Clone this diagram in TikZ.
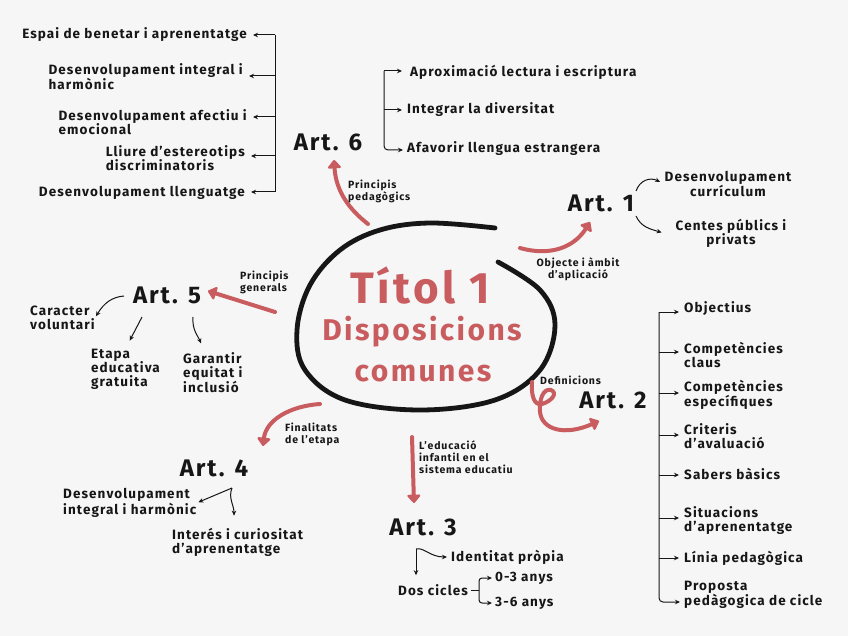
\documentclass[tikz,border=0pt]{standalone}
\usepackage{fontspec}
\setmainfont{Fira Sans}[LetterSpace=8]
\usetikzlibrary{arrows.meta}
\definecolor{titolred}{RGB}{200,92,95}
\definecolor{ink}{RGB}{22,22,22}
\definecolor{paper}{RGB}{246,246,246}

\begin{document}
\begin{tikzpicture}[x=1pt,y=-1pt,>={Stealth[length=5pt,width=4.5pt]},
  item/.style={font=\fontsize{13.5}{14}\selectfont\bfseries,text=ink,align=left,inner sep=0pt},
  artnode/.style={font=\fontsize{24}{26}\selectfont\bfseries,text=ink,inner sep=1pt},
  tag/.style={font=\fontsize{10.5}{12}\selectfont\bfseries,text=ink,align=left,inner sep=0pt},
  titletext/.style={text=titolred,inner sep=0pt,font=\bfseries},
  link/.style={ink,line width=1pt,->,shorten >=2pt},
  spine/.style={ink,line width=1pt},
  redarrow/.style={titolred,line width=4pt,line cap=round,-{Triangle[round,length=9pt,width=15pt]}}]
  \fill[paper] (0,0) rectangle (848,636);

  % centre: title inside an open hand drawn ring
  \draw[ink,line width=4.8pt,line cap=round] plot[smooth,tension=0.6] coordinates {(498,262) (540,290) (555,325) (540,370) (495,400) (420,410) (345,400) (305,370) (297,330) (310,285) (340,250) (380,230) (430,223) (495,228)};
  \node[titletext,font=\fontsize{44}{44}\selectfont\bfseries] (titol) at (420,286) {Títol 1};
  \node[titletext,font=\fontsize{30}{30}\selectfont\bfseries] (disp) at (422,332) {Disposicions};
  \node[titletext,font=\fontsize{30}{30}\selectfont\bfseries] (comu) at (423,374) {comunes};

  % the six articles
  \node[artnode] (art6) at (328,142) {Art. 6};
  \node[artnode] (art1) at (601,203) {Art. 1};
  \node[artnode] (art5) at (167,295) {Art. 5};
  \node[artnode] (art2) at (613,400) {Art. 2};
  \node[artnode] (art4) at (214,468) {Art. 4};
  \node[artnode] (art3) at (423,527) {Art. 3};

  % red arrows out of the ring, with their labels
  \coordinate (r6s) at (368,224); \coordinate (r6e) at (334,160);
  \draw[redarrow] (r6s) .. controls (350,210) and (336,192) .. (r6e);
  \node[tag,anchor=west] (t6) at (348,191) {Principis\\pedagògics};
  \coordinate (r1s) at (520,248); \coordinate (r1e) at (590,222);
  \draw[redarrow] (r1s) .. controls (552,257) and (575,246) .. (r1e);
  \node[tag,align=center] (t1) at (578,269) {Objecte i àmbit\\d’aplicació};
  \coordinate (r5s) at (275,312); \coordinate (r5e) at (208,291);
  \draw[redarrow] (r5s) -- (r5e);
  \node[tag,anchor=west] (t5) at (240,282) {Principis\\generals};
  \coordinate (r2s) at (532,382); \coordinate (r2e) at (599,421);
  \draw[redarrow] (r2s) .. controls (531,395) and (534,406) .. (542,404)
    .. controls (552,401) and (558,393) .. (551,390)
    .. controls (543,388) and (539,400) .. (540,412)
    .. controls (542,430) and (565,436) .. (r2e);
  \node[tag,anchor=west] (t2) at (540,380) {Definicions};
  \coordinate (r4s) at (320,404); \coordinate (r4e) at (263,446);
  \draw[redarrow] (r4s) .. controls (290,406) and (266,420) .. (r4e);
  \node[tag,anchor=west] (t4) at (285,434) {Finalitats\\de l’etapa};
  \coordinate (r3s) at (412,437); \coordinate (r3e) at (414,503);
  \draw[redarrow] (r3s) -- (r3e);
  \node[tag,anchor=west] (t3) at (419,457) {L’educació\\infantil en el\\sistema educatiu};

  % Art. 6: list to the left
  \node[item,anchor=east] (espai) at (247,35) {Espai de benetar i aprenentatge};
  \node[item,anchor=east] (dint) at (243,77) {Desenvolupament integral i\\harmònic};
  \node[item,anchor=east] (dafe) at (247,122) {Desenvolupament afectiu i\\emocional};
  \node[item,anchor=east] (lliu) at (245,158) {Lliure d’estereotips\\discriminatoris};
  \node[item,anchor=east] (dllg) at (245,193) {Desenvolupament llenguatge};
  \coordinate (ls1) at (275,35); \coordinate (ls2) at (275,76); \coordinate (ls3) at (275,117);
  \coordinate (ls4) at (275,156); \coordinate (ls5) at (275,192);
  \draw[spine] (ls1) -- (ls5);
  \foreach \p/\q in {ls1/espai,ls2/dint,ls3/dafe,ls4/lliu,ls5/dllg}
    \draw[link,shorten >=6pt] (\p) -- (\p -| \q.east);

  % Art. 6: list to the right
  \node[item,anchor=west] (aprox) at (410,72) {Aproximació lectura i escriptura};
  \node[item,anchor=west] (integ) at (407,110) {Integrar la diversitat};
  \node[item,anchor=west] (afav) at (407,149) {Afavorir llengua estrangera};
  \coordinate (rs1) at (384,71); \coordinate (rs2) at (384,110); \coordinate (rs3) at (384,150);
  \draw[link,shorten >=8pt] (rs1) -- (rs1 -| aprox.west);
  \draw[link,shorten >=5pt] (rs2) -- (rs2 -| integ.west);
  \draw[link,shorten >=4pt,rounded corners=4pt] (rs1) -- (rs3) -- (rs3 -| afav.west);

  % Art. 1
  \node[item,align=center] (dcur) at (728,184) {Desenvolupament\\currículum};
  \node[item,align=center] (cent) at (731,233) {Centes públics i\\privats};
  \coordinate (a1u) at (636,191); \coordinate (a1d) at (636,216);
  \draw[link,shorten >=5pt] (a1u) .. controls (640,180) and (650,177) .. (dcur.west);
  \draw[link] (a1d) .. controls (641,227) and (650,229) .. ([xshift=-12pt]cent.west);

  % Art. 5
  \node[item,anchor=west] (carac) at (30,318) {Caracter\\voluntari};
  \node[item,anchor=west] (etapa) at (91,369) {Etapa\\educativa\\gratuita};
  \node[item,anchor=west] (garan) at (183,373) {Garantir\\equitat i\\inclusió};
  \coordinate (a5l) at (124,296); \coordinate (a5m) at (142,317); \coordinate (a5r) at (193,317);
  \draw[link] (a5l) .. controls (112,297) and (104,303) .. (carac.east);
  \draw[link,shorten >=9pt] (a5m) -- (etapa.north);
  \draw[link,shorten >=10pt] (a5r) .. controls (192,330) and (198,336) .. ([xshift=22pt]garan.north west);

  % Art. 2
  \node[item,anchor=west] (obj) at (684,309) {Objectius};
  \node[item,anchor=west] (cclau) at (684,355) {Competències\\claus};
  \node[item,anchor=west] (cesp) at (684,395) {Competències\\específiques};
  \node[item,anchor=west] (crit) at (684,436) {Criteris\\d’avaluació};
  \node[item,anchor=west] (sab) at (684,474) {Sabers bàsics};
  \node[item,anchor=west] (sit) at (684,521) {Situacions\\d’aprenentatge};
  \node[item,anchor=west] (lin) at (684,558) {Línia pedagògica};
  \node[item,anchor=west] (prop) at (684,595) {Proposta\\pedàgogica de cicle};
  \coordinate (ds1) at (659,312); \coordinate (ds2) at (659,352); \coordinate (ds3) at (659,393);
  \coordinate (ds4) at (659,435); \coordinate (ds5) at (659,475); \coordinate (ds6) at (659,518);
  \coordinate (ds7) at (659,558); \coordinate (ds8) at (659,602);
  \foreach \p/\q in {ds1/obj,ds2/cclau,ds3/cesp,ds4/crit,ds5/sab,ds6/sit,ds7/lin}
    \draw[link,shorten >=5pt] (\p) -- (\p -| \q.west);
  \draw[link,shorten >=4pt,rounded corners=4pt] (ds1) -- (ds8) -- (ds8 -| prop.west);

  % Art. 4
  \node[item,anchor=west] (dint4) at (63,503) {Desenvolupament\\integral i harmònic};
  \node[item,anchor=west] (inter) at (172,542) {Interés i curiositat\\d’aprenentatge};
  \coordinate (a4f) at (232,488);
  \draw[link] (a4f) -- (dint4.east);
  \draw[link,shorten >=12pt] (a4f) .. controls (228,498) and (234,505) .. ([xshift=62pt]inter.north west);

  % Art. 3
  \node[item,anchor=west] (iden) at (451,557) {Identitat pròpia};
  \node[item] (dos) at (433,590) {Dos cicles};
  \node[item,anchor=west] (zero) at (495,578) {0-3 anys};
  \node[item,anchor=west] (tres) at (495,603) {3-6 anys};
  \coordinate (a3f) at (416,549); \coordinate (dcs) at (479,590);
  \draw[link,shorten >=9pt] (a3f) -- (a3f |- dos.north);
  \draw[link,shorten >=4pt] (a3f) .. controls (424,547) and (430,557) .. (iden.west);
  \draw[spine] (dos.east) ++(3pt,0) -- (dcs);
  \draw[link,shorten >=3pt,rounded corners=3pt] (dcs) |- (zero.west);
  \draw[link,shorten >=3pt,rounded corners=3pt] (dcs) |- (tres.west);
\end{tikzpicture}
\end{document}
